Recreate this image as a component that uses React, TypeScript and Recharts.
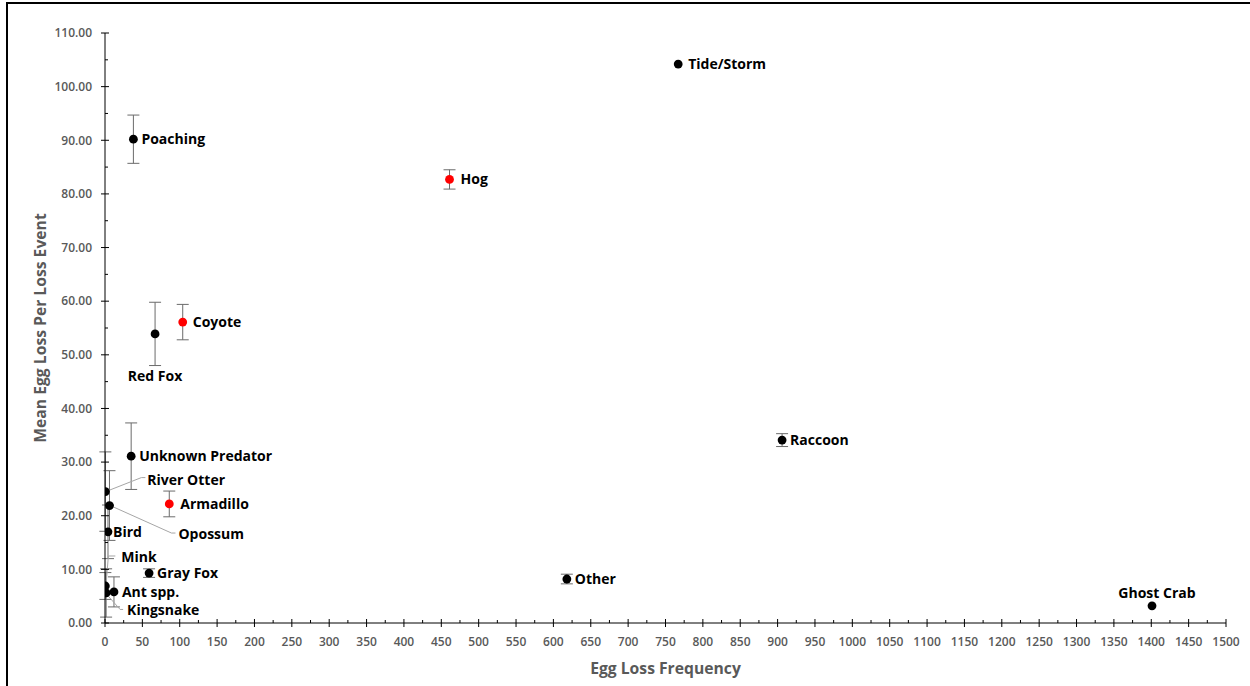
import React from 'react';
import { ScatterChart, Scatter, XAxis, YAxis, ErrorBar, Label } from 'recharts';

// Causes of sea turtle egg loss
const causes = [
  'Tide/Storm', 'Poaching', 'Hog', 'Coyote', 'Red Fox', 'Raccoon', 'Unknown Predator',
  'River Otter', 'Opossum', 'Armadillo', 'Bird', 'Mink', 'Gray Fox', 'Ant spp.',
  'Kingsnake', 'Other', 'Ghost Crab',
];
// Number of loss events recorded for each cause
const lossFrequency = [767, 38, 461, 104, 67, 906, 35, 0.5, 6, 86, 4, 0.5, 59, 12, 1.5, 618, 1401];
// Mean eggs lost per event
const meanEggLoss = [104.2, 90.2, 82.7, 56.1, 53.9, 34.1, 31.1, 24.5, 21.9, 22.2, 17.0, 6.9, 9.3, 5.8, 5.6, 8.2, 3.2];
// Standard error of the mean
const standardError = [0, 4.5, 1.8, 3.3, 5.9, 1.2, 6.2, 7.4, 6.5, 2.4, 5.0, 2.5, 0.8, 2.8, 4.5, 0.9, 0];
// Non-native predators, drawn in red
const invasive = ['Hog', 'Coyote', 'Armadillo'];

const xMajorTicks = Array.from({ length: 31 }, (_, i) => i * 50);
const yMajorTicks = Array.from({ length: 12 }, (_, i) => i * 10);
const xTicks = Array.from({ length: 61 }, (_, i) => i * 25);
const yTicks = Array.from({ length: 23 }, (_, i) => i * 5);

const rows = causes.map((name, i) => ({
  name,
  freq: lossFrequency[i],
  mean: meanEggLoss[i],
  se: standardError[i],
}));

type Placement = { dx: number; dy: number; anchor?: 'start' | 'middle'; leader?: [number, number][] };
const labelPlacement: Record<string, Placement> = {
  'Tide/Storm': { dx: 10, dy: 0 },
  'Hog': { dx: 11, dy: 0 },
  'Coyote': { dx: 10, dy: 0 },
  'Armadillo': { dx: 11, dy: 0 },
  'Bird': { dx: 5, dy: 0 },
  'Red Fox': { dx: 0, dy: 42, anchor: 'middle' },
  'Ghost Crab': { dx: 5, dy: -13, anchor: 'middle' },
  'River Otter': { dx: 42, dy: -12, leader: [[3, -1], [36, -14], [40, -14]] },
  'Opossum': { dx: 69, dy: 28, leader: [[3, 1], [62, 27.5], [66, 27.5]] },
  'Mink': { dx: 16, dy: -29, leader: [[1, -5], [3, -30], [10, -30]] },
  'Kingsnake': { dx: 21, dy: 17, leader: [[2, 3], [14, 16.5], [17, 16.5]] },
};

const TEXT_FONT = '"Open Sans", "DejaVu Sans", sans-serif';
const AXIS_GRAY = '#595959';

const XTick = (props: any) => {
  const { x, y, payload } = props;
  const v = payload.value as number;
  const major = xMajorTicks.includes(v);
  return (
    <g>
      <line x1={x} x2={x} y1={major ? y - 4 : y - 3} y2={major ? y + 4 : y} stroke="#000" strokeWidth={1} />
      {major && (
        <text x={x} y={y + 23} textAnchor="middle" fontFamily={TEXT_FONT} fontSize={12} fontWeight={600} fill={AXIS_GRAY}>
          {v}
        </text>
      )}
    </g>
  );
};

const YTick = (props: any) => {
  const { x, y, payload } = props;
  const v = payload.value as number;
  const major = yMajorTicks.includes(v);
  return (
    <g>
      <line x1={major ? x - 4 : x} x2={major ? x + 4 : x + 3} y1={y} y2={y} stroke="#000" strokeWidth={1} />
      {major && (
        <text x={x - 13} y={y + 4.3} textAnchor="end" fontFamily={TEXT_FONT} fontSize={12} fontWeight={600} fill={AXIS_GRAY}>
          {v.toFixed(2)}
        </text>
      )}
    </g>
  );
};

const PointShape = (props: any) => {
  const { cx, cy, payload } = props;
  const name = payload.name as string;
  const place = labelPlacement[name] || { dx: 8, dy: 0 };
  const color = invasive.includes(name) ? '#ff0000' : '#000000';
  return (
    <g>
      {place.leader && (
        <polyline
          points={place.leader.map(([px, py]) => `${cx + px},${cy + py}`).join(' ')}
          fill="none"
          stroke="#a6a6a6"
          strokeWidth={1}
        />
      )}
      <circle cx={cx} cy={cy} r={4.4} fill={color} />
      <text
        x={cx + place.dx}
        y={cy + place.dy + 5}
        textAnchor={place.anchor || 'start'}
        fontFamily={TEXT_FONT}
        fontSize={14}
        fontWeight={700}
        fill="#000"
      >
        {name}
      </text>
    </g>
  );
};

export default function App() {
  return (
    <div style={{ position: 'absolute', left: 0, top: 0, width: 1250, height: 686, overflow: 'hidden', background: '#fff' }}>
      <div
        style={{
          position: 'absolute',
          left: 6,
          top: 2,
          width: 1400,
          height: 800,
          borderTop: '2px solid #000',
          borderLeft: '2px solid #000',
        }}
      />
      <ScatterChart
        width={1250}
        height={686}
        margin={{ top: 33, right: 24, bottom: 0, left: 0 }}
        style={{ position: 'absolute', left: 0, top: 0 }}
      >
        <XAxis
          type="number"
          dataKey="freq"
          domain={[0, 1500]}
          ticks={xTicks}
          interval={0}
          height={63}
          tickSize={0}
          tickMargin={0}
          tickLine={false}
          tick={<XTick />}
          axisLine={{ stroke: '#000', strokeWidth: 1 }}
          allowDataOverflow
        >
          <Label
            content={(p: any) => {
              const vb = p.viewBox;
              return (
                <text
                  x={vb.x + vb.width / 2}
                  y={vb.y + 51}
                  textAnchor="middle"
                  fontFamily={TEXT_FONT}
                  fontSize={15.7}
                  fontWeight={700}
                  fill={AXIS_GRAY}
                >
                  Egg Loss Frequency
                </text>
              );
            }}
          />
        </XAxis>
        <YAxis
          type="number"
          dataKey="mean"
          domain={[0, 110]}
          ticks={yTicks}
          interval={0}
          width={105}
          tickSize={0}
          tickMargin={0}
          tickLine={false}
          tick={<YTick />}
          axisLine={{ stroke: '#000', strokeWidth: 1 }}
          allowDataOverflow
        >
          <Label
            content={(p: any) => {
              const vb = p.viewBox;
              const cx = vb.x + 40;
              const cy = vb.y + vb.height / 2;
              return (
                <text
                  x={cx}
                  y={cy}
                  transform={`rotate(-90 ${cx} ${cy})`}
                  textAnchor="middle"
                  dominantBaseline="central"
                  fontFamily={TEXT_FONT}
                  fontSize={15.7}
                  fontWeight={700}
                  fill={AXIS_GRAY}
                >
                  Mean Egg Loss Per Loss Event
                </text>
              );
            }}
          />
        </YAxis>
        <Scatter data={rows} isAnimationActive={false} shape={<PointShape />}>
          <ErrorBar dataKey="se" direction="y" width={6} stroke="#6b6b6b" strokeWidth={1} />
        </Scatter>
      </ScatterChart>
    </div>
  );
}
